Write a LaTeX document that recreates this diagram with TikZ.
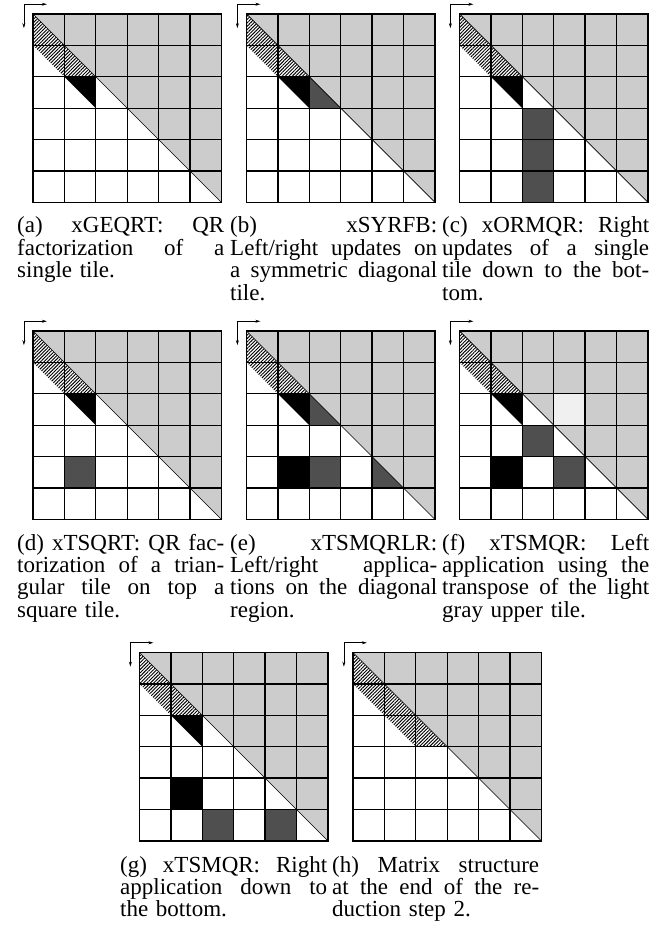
\documentclass[tikz,border=0pt]{standalone}
\usepackage{fontspec}
\setmainfont{Liberation Serif}
\usetikzlibrary{patterns.meta,arrows.meta}
\definecolor{lgray}{gray}{0.8}
\definecolor{dgray}{gray}{0.31}
\definecolor{vlgray}{gray}{0.94}
\def\capw{207pt}
\newcommand{\jl}[1]{\makebox[\capw][s]{\spaceskip=0pt\xspaceskip=0pt #1}}
\tikzset{
  gridline/.style={line width=1.3pt},
  diagline/.style={line width=0.7pt},
  axisarrow/.style={line width=0.6pt,-{Stealth[length=5pt,width=3pt]}},
  hatch/.style={pattern={Lines[angle=45,distance=2.4pt,line width=0.95pt]}},
  captext/.style={inner sep=0pt,text width=\capw,align=left,font=\fontsize{23}{22.4}\selectfont},
}
% #1 name, #2 x, #3 y, #4 hatch end, #5 extra fills
\newcommand{\tilepanel}[5]{%
  \begin{scope}[shift={(#2,#3)},x=31.4pt,y=-31.4pt]
    \fill[white] (0,0) rectangle (6,6);
    \fill[lgray] (0,0) -- (6,0) -- (6,6) -- cycle;
    \fill[white] (0,0) -- (#4,#4) -- ({#4-1},#4) -- (0,1) -- cycle;
    \fill[hatch] (0,0) -- (#4,#4) -- ({#4-1},#4) -- (0,1) -- cycle;
    #5
    \foreach \k in {1,...,5} {
      \draw[gridline] (\k,0) -- (\k,6);
      \draw[gridline] (0,\k) -- (6,\k);
    }
    \draw[gridline] (0,0) rectangle (6,6);
    \draw[diagline] (0,0) -- (6,6);
    \coordinate (#1c) at (-0.29,-0.31);
    \coordinate (#1r) at (0.44,-0.31);
    \coordinate (#1d) at (-0.29,0.45);
    \draw[axisarrow] (#1c) -- (#1r);
    \draw[axisarrow] (#1c) -- (#1d);
  \end{scope}}
\newcommand{\blacktri}{\fill[black] (1,2) -- (2,2) -- (2,3) -- cycle;}
\begin{document}
\begin{tikzpicture}[x=1pt,y=-1pt]
\useasboundingbox (0,0) rectangle (671,925);
% row 1
\tilepanel{pa}{33}{14}{2}{\blacktri}
\tilepanel{pb}{246.5}{14}{2}{\blacktri \fill[dgray] (2,2) -- (2,3) -- (3,3) -- cycle;}
\tilepanel{pc}{459.5}{14}{2}{\blacktri \fill[dgray] (2,3) rectangle (3,6);}
% row 2
\tilepanel{pd}{33}{331}{2}{\blacktri \fill[dgray] (1,4) rectangle (2,5);}
\tilepanel{pe}{246.5}{331}{2}{\blacktri \fill[dgray] (2,2) -- (2,3) -- (3,3) -- cycle;
  \fill[black] (1,4) rectangle (2,5); \fill[dgray] (2,4) rectangle (3,5);
  \fill[dgray] (4,4) -- (4,5) -- (5,5) -- cycle;}
\tilepanel{pf}{459.5}{331}{2}{\blacktri \fill[vlgray] (3,2) rectangle (4,3);
  \fill[dgray] (2,3) rectangle (3,4); \fill[black] (1,4) rectangle (2,5);
  \fill[dgray] (3,4) rectangle (4,5);}
% row 3
\tilepanel{pg}{139.5}{652.5}{2}{\blacktri \fill[black] (1,4) rectangle (2,5);
  \fill[dgray] (2,5) rectangle (3,6); \fill[dgray] (4,5) rectangle (5,6);}
\tilepanel{ph}{353}{652.5}{3}{}
% captions
\node[captext,anchor=base west] (capa) at (17,233) {\jl{(a) xGEQRT: QR}\\ \jl{factorization of a}\\ single tile.};
\node[captext,anchor=base west] (capb) at (230,233) {\jl{(b) xSYRFB:}\\ \jl{Left/right updates on}\\ \jl{a symmetric diagonal}\\ tile.};
\node[captext,anchor=base west] (capc) at (442,233) {\jl{(c) xORMQR: Right}\\ \jl{updates of a single}\\ \jl{tile down to the bot-}\\ tom.};
\node[captext,anchor=base west] (capd) at (17,550) {\jl{(d) xTSQRT: QR fac-}\\ \jl{torization of a trian-}\\ \jl{gular tile on top a}\\ square tile.};
\node[captext,anchor=base west] (cape) at (230,550) {\jl{(e) xTSMQRLR:}\\ \jl{Left/right applica-}\\ \jl{tions on the diagonal}\\ region.};
\node[captext,anchor=base west] (capf) at (442,550) {\jl{(f) xTSMQR: Left}\\ \jl{application using the}\\ \jl{transpose of the light}\\ gray upper tile.};
\node[captext,anchor=base west] (capg) at (120,872) {\jl{(g) xTSMQR: Right}\\ \jl{application down to}\\ the bottom.};
\node[captext,anchor=base west] (caph) at (332,872) {\jl{(h) Matrix structure}\\ \jl{at the end of the re-}\\ duction step 2.};
\end{tikzpicture}
\end{document}
